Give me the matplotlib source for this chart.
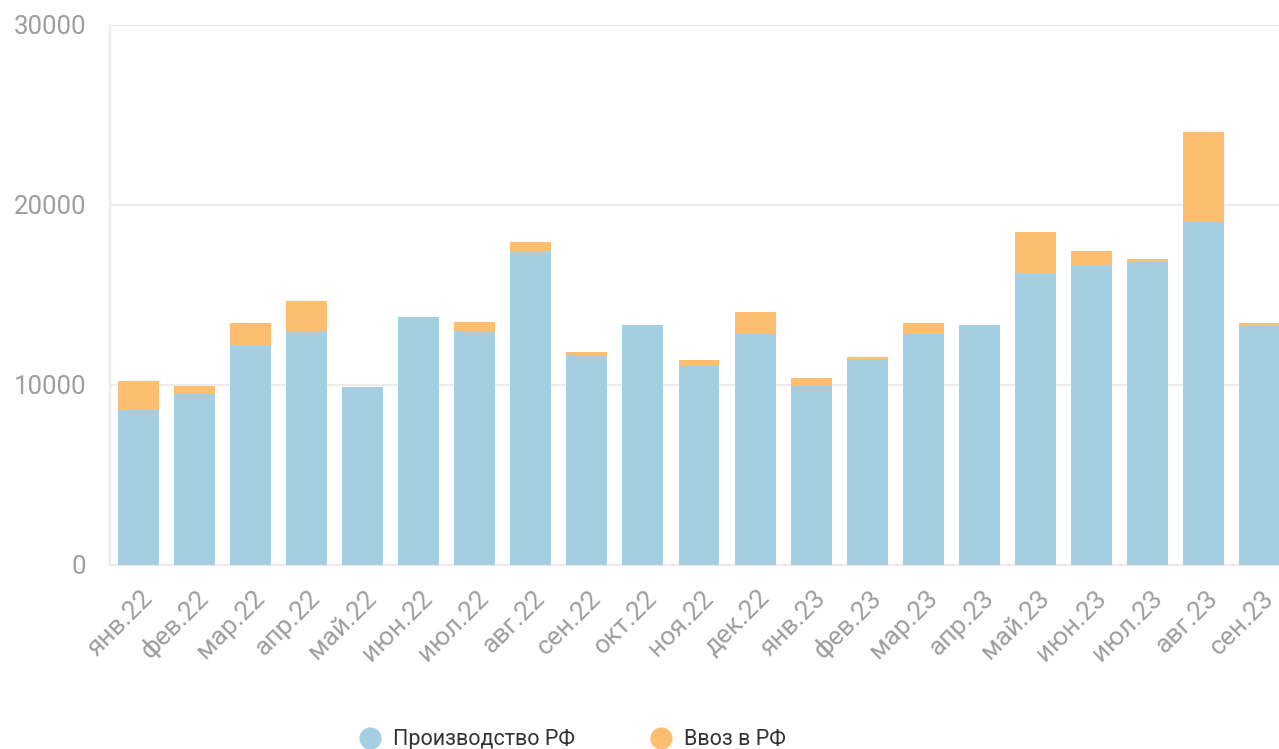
import numpy as np
import matplotlib
matplotlib.use("Agg")
from matplotlib import pyplot as plt
from matplotlib.lines import Line2D
from matplotlib.transforms import ScaledTranslation

# months (x axis)
months = ["янв.22", "фев.22", "мар.22", "апр.22", "май.22", "июн.22", "июл.22",
          "авг.22", "сен.22", "окт.22", "ноя.22", "дек.22", "янв.23", "фев.23",
          "мар.23", "апр.23", "май.23", "июн.23", "июл.23", "авг.23", "сен.23"]

# domestic production
production = [8600, 9480, 12250, 13020, 9900, 13780, 13020,
              17450, 11690, 13340, 11070, 12840, 9920, 11400,
              12840, 13340, 16230, 16680, 16820, 19040, 13280]

# imports (stacked on top)
imports = [1640, 480, 1200, 1650, 0, 0, 480,
           480, 150, 0, 330, 1220, 480, 170,
           610, 0, 2250, 750, 170, 5030, 170]

blue = "#a6cee3"
orange = "#fdbf6f"
grid_c = "#ececec"
tick_c = "#9e9e9e"

plt.rcParams['font.family'] = ['Roboto', 'DejaVu Sans']

fig = plt.figure(figsize=(12.79, 7.49), dpi=100)
# plot area runs slightly past the right edge of the figure, as in the original
ax = fig.add_axes([110 / 1279, 1 - 565 / 749, (1288 - 110) / 1279, (565 - 25) / 749])

x = np.arange(len(months))
ax.bar(x, production, width=0.73, color=blue, zorder=3)
ax.bar(x, imports, width=0.73, bottom=production, color=orange, zorder=3)

ax.set_xlim(-0.5, len(months) - 0.5)
ax.set_ylim(0, 30000)
ax.set_yticks([0, 10000, 20000, 30000])
ax.yaxis.grid(True, color=grid_c, linewidth=1.6, zorder=0)

for s in ["top", "right"]:
    ax.spines[s].set_visible(False)
ax.spines["left"].set_color(grid_c)
ax.spines["left"].set_linewidth(1.6)
ax.spines["bottom"].set_color(grid_c)
ax.spines["bottom"].set_linewidth(1.6)

ax.tick_params(axis="y", length=0, pad=17, labelsize=18.5, labelcolor=tick_c)
ax.tick_params(axis="x", length=0, pad=15, labelsize=19, labelcolor=tick_c)
ax.set_xticks(x)
ax.set_xticklabels(months, rotation=45, ha="right", va="top", rotation_mode="anchor")
shift = ScaledTranslation(2 / 100, 0, fig.dpi_scale_trans)
for lbl in ax.get_xticklabels():
    lbl.set_transform(lbl.get_transform() + shift)

handles = [Line2D([], [], marker="o", linestyle="none", markersize=15, color=blue),
           Line2D([], [], marker="o", linestyle="none", markersize=15, color=orange)]
fig.legend(handles, ["Производство РФ", "Ввоз в РФ"], loc="center left",
           bbox_to_anchor=(359 / 1279, 1 - 740 / 749), ncol=2, frameon=False,
           fontsize=15.5, labelcolor="#333333", handlelength=1.0,
           handletextpad=0.57, columnspacing=3.5, borderpad=0, borderaxespad=0)

fig.savefig("out.png", dpi=100)
